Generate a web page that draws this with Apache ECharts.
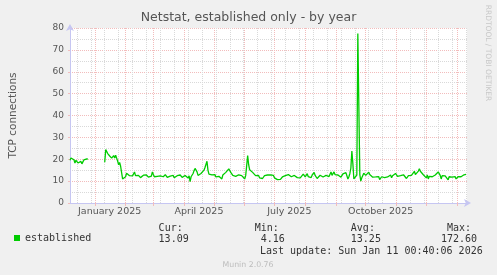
<!DOCTYPE html>
<html><head><meta charset="utf-8">
<script src="https://cdn.jsdelivr.net/npm/echarts@6/dist/echarts.min.js"></script>
<style>html,body{margin:0;padding:0;background:#f0f0f0}#c{width:497px;height:275px}</style>
</head><body><div id="c"></div>
<script>
// ---------- data ----------
const chartTitle = 'Netstat, established only - by year';
const yAxisName = 'TCP connections';
const seriesName = 'established';
const monthNames = ['January','February','March','April','May','June','July','August','September','October','November','December'];
const startDate = [2024, 11, 7, 0, 40];   // first day shown (Dec 7 2024)
const dayCount = 400;                      // days on the axis
const labelMonths = [[2025,0],[2025,3],[2025,6],[2025,9]];   // labelled months
const yTicks = { min: 0, max: 80, step: 10 };
// daily averages of established TCP connections, one per day from startDate
const established = [
  19.5, 20.6, 20.3, 20.5, 19.8, 18.3, 19.5, 19.9, 18.3, 17.5,
  18.8, 19.0, 17.9, 18.5, 19.7, 19.5, 20.0, 20.2, 20.1,
  null, null, null, null, null, null, null, null, null, null, null, null, null, null, null, null,
  18.6, 24.4, 23.5, 22.6, 22.0,  21.5, 21.0, 20.5, 21.2, 21.7,
  20.6, 21.8, 20.5, 19.2, 17.5,  18.5, 16.8, 13.9, 11.0, 10.4,
  11.5, 12.0, 13.6, 12.8, 13.0,  12.5, 12.8, 11.9, 12.4, 12.2,
  14.2, 12.5, 13.0, 11.8, 12.6,  12.0, 11.6, 12.5, 11.2, 12.7,
  11.9, 12.3, 12.8, 12.2, 11.8,  12.4, 12.1, 12.3, 14.2, 13.0,
  12.0, 12.6, 11.4, 12.2, 12.9,  11.8, 12.4, 11.5, 12.8, 12.0,
  11.6, 13.0, 12.1, 11.7, 12.4,  11.9, 12.3, 12.0, 11.8, 12.6,
  11.5, 12.2, 11.9, 12.5, 12.0,  11.6, 12.8, 12.1, 11.7, 12.3,
  11.5, 12.6, 11.8, 12.9, 11.4,  12.4, 9.8, 12.0, 12.9, 13.5,
  14.8, 15.8, 15.6, 14.2, 12.6,  12.8, 12.2, 13.5, 12.9, 13.4,
  15.0, 16.2, 15.5, 19.1, 15.0,  13.2, 12.8, 13.5, 12.9, 13.3,
  12.4, 13.0, 11.9, 12.5, 11.8,  12.2, 11.5, 12.3, 11.0, 12.8,
  13.4, 13.0, 14.0, 14.5, 14.2,  15.6, 15.0, 14.0, 13.2, 12.6,
  13.5, 12.8, 12.2, 13.0, 12.4,  12.9, 12.6, 12.1, 12.5, 11.9,
  12.2, 11.0, 12.5, 17.0, 21.7,  17.5, 15.2, 14.5, 14.9, 14.0,
  13.2, 13.8, 12.5, 12.8, 12.0,  12.6, 11.5, 12.2, 11.0, 11.2,
  12.0, 12.5, 12.1, 13.0, 12.8,  13.2, 12.4, 12.9, 12.3, 12.1,
  12.6, 11.5, 11.2, 10.9, 10.7,  10.9, 11.4, 10.8, 11.2, 11.9,
  12.2, 11.7, 12.5, 12.0, 12.8,  13.0, 12.3, 12.9, 12.0, 11.4,
  11.8, 12.6, 13.2, 12.2, 11.6,  11.0, 10.8, 11.5, 10.7, 12.0,
  13.2, 12.5, 11.9, 12.3, 13.4,  12.1, 11.5, 12.0, 11.6, 12.8,
  13.4, 14.0, 12.6, 12.0, 11.2,  12.1, 11.5, 12.7, 13.2, 12.4,
  11.9, 12.2, 11.5, 12.6, 12.2,  13.0, 12.1, 12.8, 14.2, 12.6,
  13.4, 14.2, 13.0, 12.4, 13.5,  12.8, 13.6, 12.0, 11.8, 12.6,
  13.3, 12.4, 12.9, 13.9, 13.0,  11.0, 12.0, 13.5, 16.0, 23.7,
  18.0, 11.0, 10.3, 11.5, 12.8,  77.5, 78.3, 13.0, 10.0, 11.5,
  12.4, 13.6, 14.3, 12.6, 13.2,  12.2, 14.1, 13.0, 12.4, 12.9,
  11.8, 12.2, 11.5, 11.9, 12.6,  11.0, 12.1, 10.7, 11.5, 12.0,
  11.8, 12.7, 11.6, 10.7, 11.2,  11.9, 12.3, 12.0, 12.8, 11.5,
  12.5, 13.1, 12.8, 13.5, 13.0,  12.2, 12.6, 11.8, 12.5, 11.7,
  12.1, 12.9, 12.6, 13.1, 11.2,  12.0, 12.5, 12.0, 13.2, 12.6,
  12.1, 13.4, 14.5, 13.0, 12.4,  13.6, 14.6, 15.7, 14.5, 13.6,
  14.0, 12.9, 12.5, 12.0, 11.5,  12.8, 11.0, 12.2, 13.0, 12.5,
  12.0, 12.8, 12.4, 12.8, 13.4,  13.5, 14.2, 15.1, 12.6, 11.0,
  12.5, 13.0, 12.8, 12.4, 11.5,  11.8, 10.6, 12.0, 12.6, 12.0,
  11.8, 11.2, 11.6, 12.1, 11.0,  11.8, 12.0, 12.6, 12.4, 12.0,
  12.3, 12.6, 12.9, 13.4, 13.09
];
const statLabels = ['Cur:', 'Min:', 'Avg:', 'Max:'];
const statValues = ['13.09', '4.16', '13.25', '172.60'];
const lastUpdate = 'Last update: Sun Jan 11 00:40:06 2026';
const footer = 'Munin 2.0.76';
const sideText = 'RRDTOOL / TOBI OETIKER';

// ---------- build ----------
const DAY = 86400000;
const t0 = new Date(startDate[0], startDate[1], startDate[2], startDate[3], startDate[4]).getTime();
const t1 = t0 + dayCount * DAY;
const seriesData = established.map((v, i) => [t0 + i * DAY, v]);
const monthStarts = [];
for (let y = 2024; y <= 2026; y++) for (let m = 0; m < 12; m++) {
  const t = new Date(y, m, 1).getTime();
  if (t > t0 && t < t1) monthStarts.push(t);
}
const fortnightly = [];
for (let t = new Date(2024, 11, 14).getTime(); t < t1; t += 14 * DAY) fortnightly.push(t);
const labelDates = labelMonths.map(([y, m]) => new Date(y, m, 16).getTime());

const RED = '#f2bcbc', GREY = '#d9d9d9', AXIS = '#c6c6f2', TXT = '#555';
const mono = '10px "DejaVu Sans Mono"';

const graphic = [];
const txt = (x, y, text, font, fill, align, extra) => Object.assign({ type: 'text', x: x, y: y,
  style: { text: text, font: font, fill: fill, align: align, verticalAlign: 'middle', textAlign: align, textVerticalAlign: 'middle' } }, extra || {});
statLabels.forEach((s, k) => graphic.push(txt(182.7 + k * 96.1, 228.5, s, mono, '#333', 'right')));
statValues.forEach((s, k) => graphic.push(txt(188.7 + k * 96.1, 239.5, s, mono, '#333', 'right')));
graphic.push(txt(482.7, 251, lastUpdate, mono, '#333', 'right'));
graphic.push(txt(248, 264.5, footer, '7.8px "DejaVu Sans"', '#bdbdbd', 'center'));
graphic.push(txt(488, 53, sideText, '7.5px "DejaVu Sans"', '#c8c8c8', 'center', { rotation: -Math.PI / 2 }));

const chart = echarts.init(document.getElementById('c'), null, { renderer: 'canvas' });
chart.setOption({
  animation: false,
  backgroundColor: '#f0f0f0',
  textStyle: { fontFamily: 'DejaVu Sans' },
  title: { text: chartTitle, left: 'center', top: 6,
    textStyle: { fontSize: 12.5, fontWeight: 'normal', color: TXT, fontFamily: 'DejaVu Sans' } },
  grid: { left: 67, right: 30, top: 28, bottom: 72, show: true, backgroundColor: '#ffffff', borderWidth: 0 },
  legend: { data: [{ name: seriesName, icon: 'rect' }], left: 14, top: 233, padding: 0,
    itemWidth: 6, itemHeight: 6, selectedMode: false,
    textStyle: { fontFamily: 'DejaVu Sans Mono', fontSize: 10, color: '#333' } },
  xAxis: [
    { type: 'value', min: t0, max: t1, position: 'bottom', scale: true,
      axisLine: { show: false }, axisLabel: { show: false },
      axisTick: { show: false, customValues: fortnightly },
      splitLine: { show: true, lineStyle: { color: GREY, type: [1, 1] } } },
    { type: 'value', min: t0, max: t1, position: 'bottom', scale: true,
      axisLine: { show: true, onZero: false, lineStyle: { color: AXIS }, symbol: ['none', 'arrow'], symbolSize: [6, 7], symbolOffset: [0, 4] },
      axisTick: { show: true, customValues: monthStarts, length: 3, lineStyle: { color: RED } },
      axisLabel: { customValues: labelDates, color: TXT, fontSize: 9.5, margin: 4, hideOverlap: false,
        formatter: v => { const d = new Date(v); return monthNames[d.getMonth()] + ' ' + d.getFullYear(); } },
      splitLine: { show: true, lineStyle: { color: RED, type: [1, 1] } } }
  ],
  yAxis: { type: 'value', min: yTicks.min, max: yTicks.max, interval: yTicks.step,
    name: yAxisName, nameLocation: 'middle', nameGap: 51, nameRotate: 90,
    nameTextStyle: { color: TXT, fontSize: 10.5, fontFamily: 'DejaVu Sans' },
    axisLine: { show: true, lineStyle: { color: AXIS }, symbol: ['none', 'arrow'], symbolSize: [6, 7], symbolOffset: [0, 4] },
    axisTick: { show: true, length: 2, lineStyle: { color: RED } },
    axisLabel: { color: TXT, fontSize: 9, margin: 6 },
    splitLine: { show: true, lineStyle: { color: RED, type: [1, 1] } },
    minorTick: { show: false, splitNumber: 2 },
    minorSplitLine: { show: true, lineStyle: { color: GREY, type: [1, 1] } } },
  series: [{ name: seriesName, type: 'line', xAxisIndex: 1, data: seriesData,
    showSymbol: false, symbol: 'none', connectNulls: false, smooth: false,
    color: '#00cc00', itemStyle: { color: '#00cc00' }, lineStyle: { color: '#00cc00', width: 1.3 } }],
  graphic: graphic
});
</script></body></html>
